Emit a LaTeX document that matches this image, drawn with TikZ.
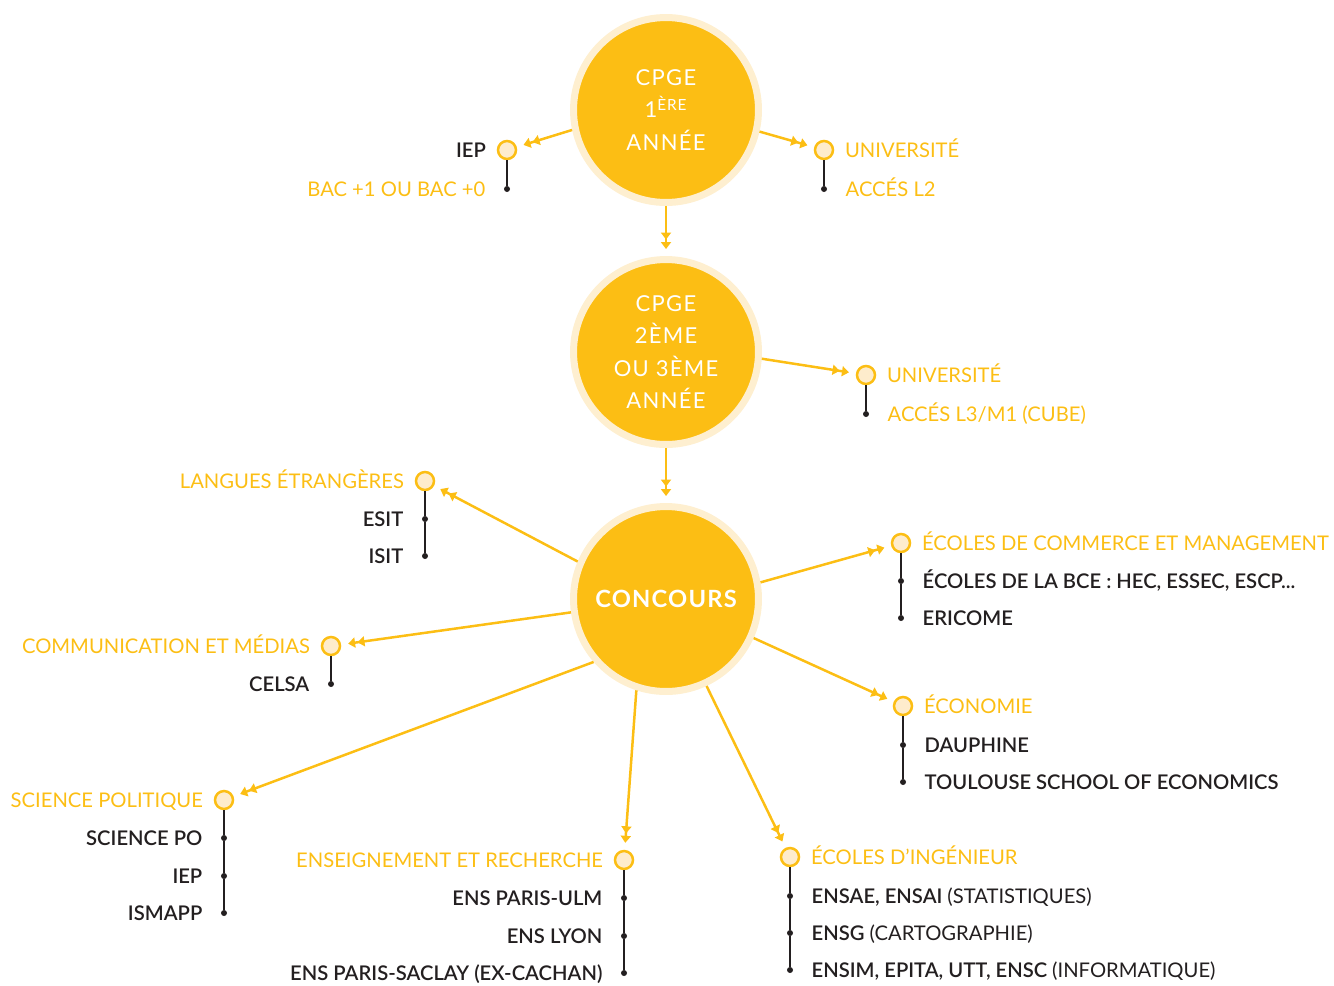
\documentclass[tikz,border=0pt]{standalone}
\usepackage{fontspec}
\setmainfont{Lato}
\newfontfamily\semifont{Lato Semibold}
\newfontfamily\widefont{Lato}[LetterSpace=6]
\newfontfamily\wideboldfont{Lato Bold}[LetterSpace=5]
\usetikzlibrary{arrows.meta, positioning}

\definecolor{cyel}{RGB}{252,190,20}
\definecolor{chalo}{RGB}{254,239,208}
\definecolor{ccream}{RGB}{254,236,204}
\definecolor{cdark}{RGB}{35,31,32}

\begin{document}
\begin{tikzpicture}[x=0.02cm, y=-0.02cm,
    big/.style={circle, fill=cyel, draw=chalo, line width=0.14cm, minimum size=3.7cm,
      inner sep=0, text=white, align=center, font=\widefont\fontsize{12.5}{18.3}\selectfont},
    hub/.style={circle, fill=ccream, draw=cyel, line width=0.05cm, minimum size=0.36cm, inner sep=0},
    pt/.style={circle, fill=cdark, minimum size=0.12cm, inner sep=0},
    txt/.style={inner sep=0, text height=8.2pt, text depth=0pt, font=\fontsize{11.5}{14}\selectfont},
    ylab/.style={txt, text=cyel},
    blab/.style={txt, text=cdark, font=\semifont\fontsize{11.5}{14}\selectfont},
    link/.style={cyel, line width=0.05cm, shorten >=0.08cm,
      -{Triangle[length=0.14cm, width=0.2cm, sep=0.05cm] Triangle[length=0.14cm, width=0.2cm, sep=0.06cm]}},
    stem/.style={cdark, line width=0.03cm}]
  \useasboundingbox (0,0) rectangle (1334,985);

  % big circles
  \node[big] (c1) at (666,110) {CPGE\\1\textsuperscript{ÈRE}\\ANNÉE};
  \node[big] (c2) at (666,352) {CPGE\\2ÈME\\OU 3ÈME\\ANNÉE};
  \node[big, font=\wideboldfont\fontsize{13.5}{18}\selectfont] (c3) at (666,599) {CONCOURS};

  % after first year
  \node[hub] (iep) at (507,150) {};
  \node[pt] (bac) at (507,189) {};
  \node[blab, left=0.21cm of iep] (iepL) {IEP};
  \node[ylab, left=0.36cm of bac] (bacL) {BAC +1 OU BAC +0};
  \node[hub] (ua) at (824,150) {};
  \node[pt] (l2) at (824,189) {};
  \node[ylab, right=0.21cm of ua] (uaL) {UNIVERSITÉ};
  \node[ylab, right=0.36cm of l2] (l2L) {ACCÉS L2};

  % after second year
  \node[hub] (ub) at (866,375) {};
  \node[pt] (l3) at (866,414) {};
  \node[ylab, right=0.21cm of ub] (ubL) {UNIVERSITÉ};
  \node[ylab, right=0.36cm of l3] (l3L) {ACCÉS L3/M1 (CUBE)};

  % concours, left side
  \node[hub] (lang) at (425,481) {};
  \node[pt] (esit) at (425,519) {};
  \node[pt] (isit) at (425,556) {};
  \node[ylab, left=0.21cm of lang] (langL) {LANGUES ÉTRANGÈRES};
  \node[blab, left=0.36cm of esit] (esitL) {ESIT};
  \node[blab, left=0.36cm of isit] (isitL) {ISIT};

  \node[hub] (comm) at (331,646) {};
  \node[pt] (celsa) at (331,684) {};
  \node[ylab, left=0.21cm of comm] (commL) {COMMUNICATION ET MÉDIAS};
  \node[blab, left=0.36cm of celsa] (celsaL) {CELSA};

  \node[hub] (sp) at (224,800) {};
  \node[pt] (spa) at (224,838) {};
  \node[pt] (spb) at (224,876) {};
  \node[pt] (spc) at (224,913) {};
  \node[ylab, left=0.21cm of sp] (spL) {SCIENCE POLITIQUE};
  \node[blab, left=0.36cm of spa] (spaL) {SCIENCE PO};
  \node[blab, left=0.36cm of spb] (spbL) {IEP};
  \node[blab, left=0.36cm of spc] (spcL) {ISMAPP};

  \node[hub] (ens) at (624,860) {};
  \node[pt] (ensa) at (624,898) {};
  \node[pt] (ensb) at (624,936) {};
  \node[pt] (ensc) at (624,973) {};
  \node[ylab, left=0.21cm of ens] (ensL) {ENSEIGNEMENT ET RECHERCHE};
  \node[blab, left=0.36cm of ensa] (ensaL) {ENS PARIS-ULM};
  \node[blab, left=0.36cm of ensb] (ensbL) {ENS LYON};
  \node[blab, left=0.36cm of ensc] (enscL) {ENS PARIS-SACLAY (EX-CACHAN)};

  % concours, right side
  \node[hub] (com) at (901,543) {};
  \node[pt] (coma) at (901,581) {};
  \node[pt] (comb) at (901,618) {};
  \node[ylab, right=0.21cm of com] (comL) {ÉCOLES DE COMMERCE ET MANAGEMENT};
  \node[blab, right=0.36cm of coma] (comaL) {ÉCOLES DE LA BCE : HEC, ESSEC, ESCP...};
  \node[blab, right=0.36cm of comb] (combL) {ERICOME};

  \node[hub] (eco) at (903,706) {};
  \node[pt] (ecoa) at (903,745) {};
  \node[pt] (ecob) at (903,782) {};
  \node[ylab, right=0.21cm of eco] (ecoL) {ÉCONOMIE};
  \node[blab, right=0.36cm of ecoa] (ecoaL) {DAUPHINE};
  \node[blab, right=0.36cm of ecob] (ecobL) {TOULOUSE SCHOOL OF ECONOMICS};

  \node[hub] (ing) at (790,857) {};
  \node[pt] (inga) at (790,896) {};
  \node[pt] (ingb) at (790,933) {};
  \node[pt] (ingc) at (790,970) {};
  \node[ylab, right=0.21cm of ing] (ingL) {ÉCOLES D’INGÉNIEUR};
  \node[blab, right=0.36cm of inga] (ingaL) {ENSAE, ENSAI {\normalfont(STATISTIQUES)}};
  \node[blab, right=0.36cm of ingb] (ingbL) {ENSG {\normalfont(CARTOGRAPHIE)}};
  \node[blab, right=0.36cm of ingc] (ingcL) {ENSIM, EPITA, UTT, ENSC {\normalfont(INFORMATIQUE)}};

  % yellow links
  \draw[link] (c1.192) -- (iep);
  \draw[link] (c1.347) -- (ua);
  \draw[link] (c1) -- (c2);
  \draw[link] (c2.356) -- (ub);
  \draw[link] (c2) -- (c3);
  \draw[link] (c3.157) -- (lang);
  \draw[link] (c3.188) -- (comm);
  \draw[link] (c3.221) -- (sp);
  \draw[link] (c3.252) -- (ens);
  \draw[link] (c3.295) -- (ing);
  \draw[link] (c3.336) -- (eco);
  \draw[link] (c3.10) -- (com);

  % black stems
  \draw[stem] (iep) -- (bac);
  \draw[stem] (ua) -- (l2);
  \draw[stem] (ub) -- (l3);
  \draw[stem] (lang) -- (esit) -- (isit);
  \draw[stem] (comm) -- (celsa);
  \draw[stem] (sp) -- (spa) -- (spb) -- (spc);
  \draw[stem] (ens) -- (ensa) -- (ensb) -- (ensc);
  \draw[stem] (com) -- (coma) -- (comb);
  \draw[stem] (eco) -- (ecoa) -- (ecob);
  \draw[stem] (ing) -- (inga) -- (ingb) -- (ingc);
\end{tikzpicture}
\end{document}
